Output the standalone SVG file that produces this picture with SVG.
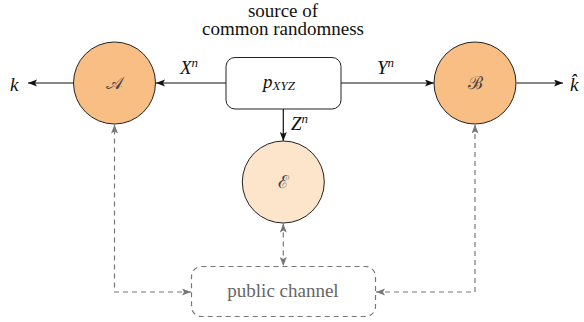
<svg xmlns="http://www.w3.org/2000/svg" width="584" height="322" viewBox="0 0 584 322">
  <defs>
    <style>
      .party { fill: #F8BE84; stroke: #222; stroke-width: 1; }
      .eve { fill: #FDE5CB; stroke: #222; stroke-width: 1; }
      .src { fill: #fff; stroke: #222; stroke-width: 1; }
      .link { fill: none; stroke: #111; stroke-width: 1.2; marker-end: url(#arr); }
      .pub { fill: none; stroke: #777; stroke-width: 1.2; stroke-dasharray: 5 4; }
      .publink { fill: none; stroke: #777; stroke-width: 1.2; stroke-dasharray: 5 4; marker-start: url(#garr); marker-end: url(#garr); }
    </style>
    <marker id="arr" markerUnits="userSpaceOnUse" markerWidth="10" markerHeight="8" refX="9" refY="3.5" orient="auto">
      <path d="M0,0 L9,3.5 L0,7 L2,3.5 z" fill="#111"/>
    </marker>
    <marker id="garr" markerUnits="userSpaceOnUse" markerWidth="10" markerHeight="8" refX="9" refY="3.5" orient="auto-start-reverse">
      <path d="M0,0 L9,3.5 L0,7 L2,3.5 z" fill="#777"/>
    </marker>
  </defs>

  <!-- connectors -->
  <g id="connectors">
    <path class="link" d="M226,83 H156"/>
    <path class="link" d="M73.5,83 H28"/>
    <path class="link" d="M341,83 H434"/>
    <path class="link" d="M516.5,83 H563"/>
    <path class="link" d="M283.3,109 V141"/>
    <path class="publink" d="M191,292 H114.5 V124.5"/>
    <path class="publink" d="M376,292 H475 V124.5"/>
    <path class="publink" d="M283.3,223.5 V266"/>
    <!-- edge labels -->
    <g font-family="Liberation Serif, serif" font-style="italic" font-size="19" fill="#111">
      <text x="180" y="74">X<tspan font-size="13" dy="-7">n</tspan></text>
      <text x="377" y="74">Y<tspan font-size="13" dy="-7">n</tspan></text>
      <text x="291" y="130">Z<tspan font-size="13" dy="-7">n</tspan></text>
    </g>
  </g>

  <!-- outputs -->
  <g id="out-k">
    <text x="10" y="90.5" font-family="Liberation Serif, serif" font-style="italic" font-size="19" fill="#111">k</text>
  </g>
  <g id="out-khat">
    <text x="570" y="91" font-family="Liberation Serif, serif" font-style="italic" font-size="19" fill="#111">k̂</text>
  </g>

  <!-- common randomness source -->
  <g id="source">
    <g font-family="Liberation Serif, serif" font-size="19" fill="#111" text-anchor="middle">
      <text x="283" y="17">source of</text>
      <text x="283" y="35">common randomness</text>
    </g>
    <rect class="src" x="226" y="57.5" width="115" height="51.5" rx="9"/>
    <text x="263" y="88" font-family="Liberation Serif, serif" font-style="italic" font-size="19" fill="#111">p<tspan font-size="13" dy="2">XYZ</tspan></text>
  </g>

  <!-- parties -->
  <g font-family="DejaVu Serif, serif" font-size="18" fill="#444" text-anchor="middle">
    <g id="alice">
      <circle class="party" cx="114.5" cy="83" r="41"/>
      <text x="114.5" y="89">𝒜</text>
    </g>
    <g id="bob">
      <circle class="party" cx="475" cy="83" r="41"/>
      <text x="475" y="89">ℬ</text>
    </g>
    <g id="eve">
      <circle class="eve" cx="283.3" cy="182" r="41"/>
      <text x="283.3" y="188">ℰ</text>
    </g>
  </g>

  <!-- public channel -->
  <g id="public-channel">
    <rect class="pub" x="191.5" y="266.5" width="184" height="50" rx="10"/>
    <text x="283" y="297" font-family="Liberation Serif, serif" font-size="19" fill="#666" text-anchor="middle">public channel</text>
  </g>
</svg>
